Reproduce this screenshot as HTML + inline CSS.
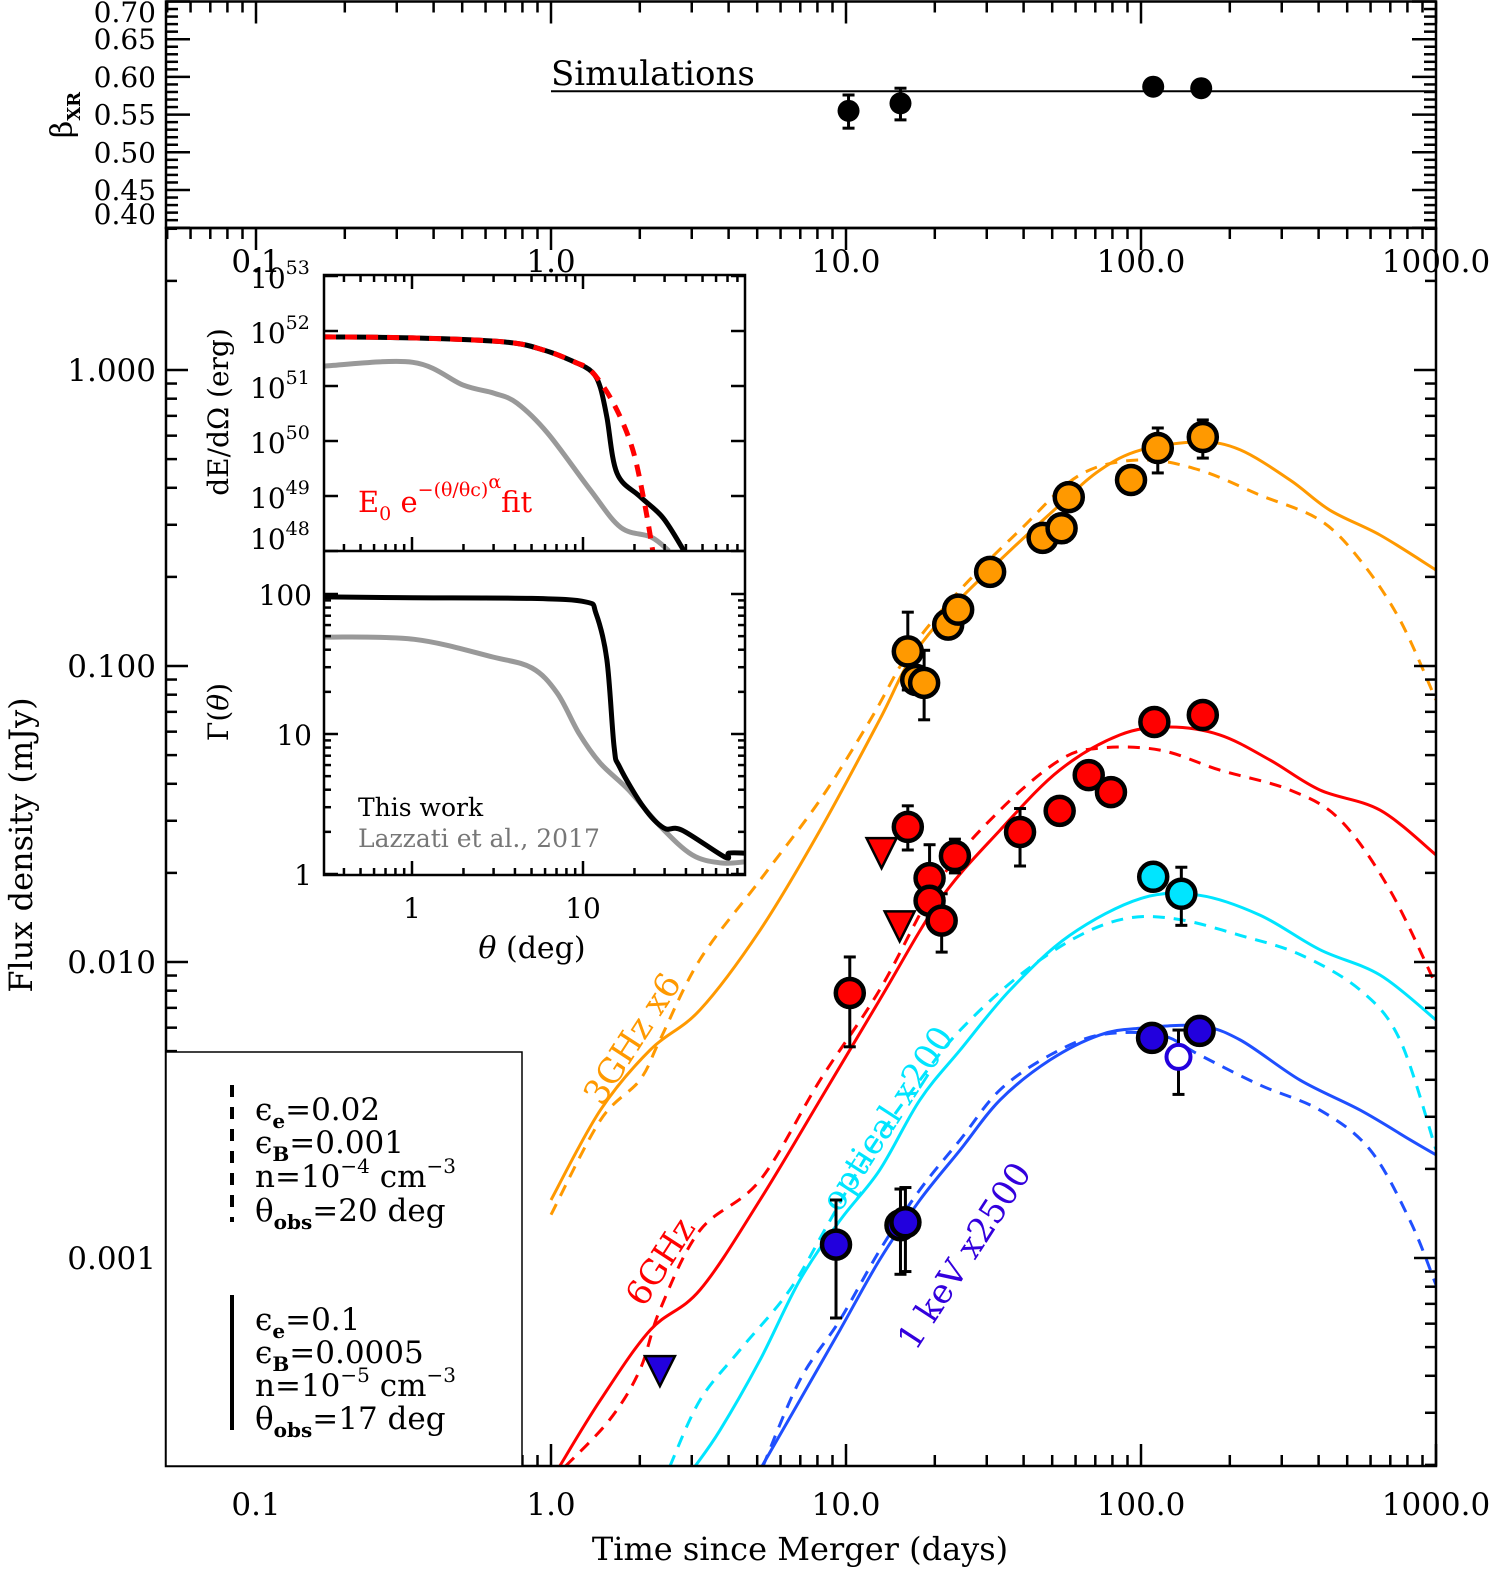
<!DOCTYPE html>
<html><head><meta charset="utf-8"><style>
html,body{margin:0;padding:0;background:#fff}
svg{display:block;font-family:"DejaVu Serif","Liberation Serif",serif}
</style></head><body>
<svg id="fig" xmlns="http://www.w3.org/2000/svg" width="1502" height="1577" viewBox="0 0 1502 1577">
<g id="g-main"></g>
<g id="g-top"></g>
<g id="g-legend">
<rect x="166" y="1052" width="356" height="414" fill="#fff" stroke="#000" stroke-width="1.5"/>
<line x1="232" y1="1085" x2="232" y2="1222" stroke="#000" stroke-width="4" stroke-dasharray="12,10"/>
<line x1="232" y1="1295" x2="232" y2="1430" stroke="#000" stroke-width="4"/>
<g font-size="31" fill="#000">
<text x="255" y="1120">ϵ<tspan font-size="20" dy="8" font-weight="bold">e</tspan><tspan dy="-8">=0.02</tspan></text>
<text x="255" y="1153">ϵ<tspan font-size="20" dy="8" font-weight="bold">B</tspan><tspan dy="-8">=0.001</tspan></text>
<text x="255" y="1187">n=10<tspan font-size="20" dy="-14">−4</tspan><tspan dy="14"> cm</tspan><tspan font-size="20" dy="-14">−3</tspan></text>
<text x="255" y="1221">θ<tspan font-size="20" dy="8" font-weight="bold">obs</tspan><tspan dy="-8">=20 deg</tspan></text>
<text x="255" y="1330">ϵ<tspan font-size="20" dy="8" font-weight="bold">e</tspan><tspan dy="-8">=0.1</tspan></text>
<text x="255" y="1363">ϵ<tspan font-size="20" dy="8" font-weight="bold">B</tspan><tspan dy="-8">=0.0005</tspan></text>
<text x="255" y="1396">n=10<tspan font-size="20" dy="-14">−5</tspan><tspan dy="14"> cm</tspan><tspan font-size="20" dy="-14">−3</tspan></text>
<text x="255" y="1429">θ<tspan font-size="20" dy="8" font-weight="bold">obs</tspan><tspan dy="-8">=17 deg</tspan></text>
</g></g>
<g id="g-inset"></g>
</svg>
<script>
// ===== main flux chart data (time in days, flux in mJy) =====
const o_sol_t=[1.0,1.47,2.17,3.20,5.11,8.17,13.0,16.5,22.5,33.3,53.0,72.6,100,158,217,320,437,646,1000];
const o_sol_f=[0.00157,0.00316,0.00505,0.00689,0.0128,0.0279,0.0658,0.105,0.155,0.228,0.350,0.459,0.537,0.571,0.537,0.425,0.336,0.277,0.211];
const o_das_t=[1.0,1.47,2.00,2.34,3.20,5.11,8.17,12.1,16.5,24.4,38.9,62.0,100,158,253,404,553,755,1000];
const o_das_f=[0.00140,0.00292,0.00399,0.00545,0.0102,0.0189,0.0353,0.0658,0.113,0.181,0.288,0.442,0.497,0.459,0.378,0.311,0.228,0.143,0.0768];
const r_sol_t=[1.07,1.47,2.17,3.20,5.11,8.17,13.0,20.8,33.3,53.0,84.9,125,185,274,404,646,1000];
const r_sol_f=[0.000198,0.000331,0.000571,0.000780,0.00157,0.00342,0.00744,0.0162,0.0279,0.0445,0.0585,0.0622,0.0585,0.0481,0.0381,0.0326,0.0230];
const r_das_t=[1.12,1.58,2.00,2.34,3.20,5.11,8.17,13.0,20.8,33.3,53.0,72.6,116,185,320,473,698,1000];
const r_das_f=[0.000198,0.000284,0.000418,0.000668,0.00124,0.00183,0.00399,0.00804,0.0189,0.0326,0.0481,0.0528,0.0520,0.0445,0.0381,0.0302,0.0175,0.00836];
const c_sol_t=[3.08,3.74,5.11,6.98,9.54,13.0,17.8,24.4,36.0,57.3,100,158,253,404,646,1000];
const c_sol_f=[0.000198,0.000262,0.000452,0.000843,0.00134,0.00198,0.00342,0.00505,0.00804,0.0123,0.0164,0.0168,0.0144,0.0110,0.00904,0.00637];
const c_das_t=[2.53,3.20,4.37,6.45,8.83,12.1,17.8,24.4,38.9,62.0,91.8,136,217,346,553,755,1000];
const c_das_f=[0.000198,0.000331,0.000489,0.000780,0.00134,0.00232,0.00399,0.00589,0.00904,0.0123,0.0141,0.0139,0.0123,0.0106,0.00804,0.00545,0.00232];
const b_sol_t=[5.19,6.98,9.54,13.0,17.8,24.4,33.3,49.2,72.6,100,158,217,346,553,816,1000];
const b_sol_f=[0.000198,0.000331,0.000571,0.000985,0.00157,0.00232,0.00342,0.00467,0.00567,0.00598,0.00608,0.00545,0.00399,0.00316,0.00251,0.00223];
const b_das_t=[5.23,6.98,9.54,13.0,17.8,24.4,33.3,49.2,72.6,116,158,253,404,598,816,1000];
const b_das_f=[0.000198,0.000387,0.000618,0.00106,0.00170,0.00251,0.00370,0.00485,0.00567,0.00567,0.00485,0.00384,0.00316,0.00232,0.00134,0.000811];

const o_pt_t=[16.2,17.3,18.4,22.2,24.0,30.8,46.4,53.8,56.9,92.5,114,162];
const o_pt_f=[0.112,0.0897,0.0877,0.138,0.155,0.208,0.271,0.292,0.372,0.425,0.545,0.594];
const o_pt_lo=[0.083,null,0.0658,0.125,null,null,null,0.262,0.34,null,0.449,0.504];
const o_pt_hi=[0.152,null,0.113,0.152,null,null,null,0.325,0.41,null,0.637,0.678];
const r_pt_t=[16.2,19.2,19.2,21.1,23.4,10.3,38.9,53.0,66.5,79.1,111,162];
const r_pt_f=[0.0286,0.0192,0.0161,0.0138,0.0228,0.00786,0.0275,0.0324,0.0428,0.0375,0.0647,0.0683];
const r_pt_lo=[0.0239,0.0156,null,0.0108,0.0200,0.00517,0.0211,0.0298,null,null,null,0.0630];
const r_pt_hi=[0.0337,0.0249,null,0.0170,0.0260,0.0104,0.0330,0.0352,null,null,null,0.0750];
const r_lim_t=[13.2,15.2];
const r_lim_f=[0.0235,0.0133];
const b_lim_t=[2.34];
const b_lim_f=[0.000418];
const c_pt_t=[110,137];
const c_pt_f=[0.0194,0.0170];
const c_pt_lo=[0.0175,0.0133];
const c_pt_hi=[0.0215,0.0209];
const b_pt_t=[9.25,15.3,15.9,109,158];
const b_pt_f=[0.00111,0.00129,0.00132,0.00554,0.00585];
const b_pt_lo=[0.000627,0.000881,0.00090,null,null];
const b_pt_hi=[0.00157,0.00171,0.00173,null,null];
const b_open_t=[134];
const b_open_f=[0.00478];
const b_open_lo=[0.00357];
const b_open_hi=[0.00589];
const xTickVals=[0.1,1,10,100,1000];
const xTickLabels=["0.1","1.0","10.0","100.0","1000.0"];
const yTickVals=[0.001,0.01,0.1,1];
const yTickLabels=["0.001","0.010","0.100","1.000"];

// ===== beta panel data =====
const beta_t=[10.2,15.3,110,160];
const beta_v=[0.555,0.565,0.587,0.585];
const beta_lo=[0.532,0.543,null,null];
const beta_hi=[0.576,0.585,null,null];
const beta_sim=0.581;
const betaTickVals=[0.40,0.45,0.50,0.55,0.60,0.65,0.70];
const betaTickLabels=["0.40","0.45","0.50","0.55","0.60","0.65","0.70"];

// ===== inset data (theta deg) =====
const e_this_th=[0.306,1.01,3.5,5.9,9.0,11.3,12.6,13.8,15.8,21.6,29.4,39];
const e_this_v=[7.8e51,7.5e51,6.3e51,4.5e51,2.7e51,1.8e51,9.6e50,2.7e50,2.6e49,9.7e48,4.0e48,1.0e48];
const e_fit_th=[0.306,1.01,3.5,5.9,9.0,11.3,15.0,19.3,22.7,25.6];
const e_fit_v=[7.8e51,7.5e51,6.3e51,4.5e51,2.7e51,1.8e51,5.0e50,7.9e49,8.5e48,1.0e48];
const e_laz_th=[0.306,1.01,1.99,3.02,4.1,6.2,11.0,16.6,25,31.9];
const e_laz_v=[2.3e51,2.7e51,1.04e51,7.4e50,4.9e50,1.4e50,1.3e49,2.7e48,1.8e48,1.0e48];
const g_this_th=[0.31,1.0,5.0,10.4,11.9,13.8,15.2,16.4,22.6,29.7,37.9,67.6,71.3,88];
const g_this_v=[95.4,94,93,87.7,73,33.8,8.1,5.8,3.0,2.13,2.06,1.32,1.41,1.41];
const g_laz_th=[0.31,1.03,2.97,5.03,7.05,9.48,12.6,18.5,28.5,43.5,64,88];
const g_laz_v=[49.3,47.5,35.5,29.6,19.7,10.1,6.2,3.98,2.17,1.37,1.2,1.22];

const NS="http://www.w3.org/2000/svg";
function mk(parent,tag,attrs){const e=document.createElementNS(NS,tag);for(const k in attrs)e.setAttribute(k,attrs[k]);parent.appendChild(e);return e;}
const L=Math.log10;
function smooth(P){ // Catmull-Rom to bezier
  let d='M'+P[0][0].toFixed(1)+','+P[0][1].toFixed(1);
  for(let i=0;i<P.length-1;i++){const p0=P[i-1]||P[i],p1=P[i],p2=P[i+1],p3=P[i+2]||P[i+1];
    const c1=[p1[0]+(p2[0]-p0[0])/6,p1[1]+(p2[1]-p0[1])/6],c2=[p2[0]-(p3[0]-p1[0])/6,p2[1]-(p3[1]-p1[1])/6];
    d+='C'+c1[0].toFixed(1)+','+c1[1].toFixed(1)+' '+c2[0].toFixed(1)+','+c2[1].toFixed(1)+' '+p2[0].toFixed(1)+','+p2[1].toFixed(1);}
  return d;}
const X=t=>551+295*L(t), Y=f=>370-296*L(f);
const MX0=166,MX1=1436,MY0=228,MY1=1466;
const gm=document.getElementById('g-main');
const defs=mk(document.getElementById('fig'),'defs',{});
const cp=mk(defs,'clipPath',{id:'mclip'});mk(cp,'rect',{x:MX0,y:MY0,width:MX1-MX0,height:MY1-MY0});
const curves=mk(gm,'g',{'clip-path':'url(#mclip)'});
function curve(ts,fs,color,dash,name){
  const d=smooth(ts.map((t,i)=>[X(t),Y(fs[i])]));
  const p=mk(curves,'path',{d:d,fill:'none',stroke:color,'stroke-width':3,'stroke-dasharray':dash?'12,9':'none'});
  
  
}
curve(o_das_t,o_das_f,'#ff9900',1,'3ghz-model-dashed');
curve(o_sol_t,o_sol_f,'#ff9900',0,'3ghz-model-solid');
curve(r_das_t,r_das_f,'#ff0000',1,'6ghz-model-dashed');
curve(r_sol_t,r_sol_f,'#ff0000',0,'6ghz-model-solid');
curve(c_das_t,c_das_f,'#00e5ff',1,'optical-model-dashed');
curve(c_sol_t,c_sol_f,'#00e5ff',0,'optical-model-solid');
curve(b_das_t,b_das_f,'#1f4fff',1,'xray-model-dashed');
curve(b_sol_t,b_sol_f,'#1f4fff',0,'xray-model-solid');
function rlabel(x,y,txt,color,name){const t=mk(gm,'text',{x:x,y:y,fill:color,'font-size':34,'text-anchor':'middle',transform:'rotate(-57 '+x+' '+y+')'});t.textContent=txt;
 }
rlabel(642,1045,'3GHz x6','#ff9900','3ghz-label');
rlabel(670,1268,'6GHz','#ff0000','6ghz-label');
rlabel(897,1125,'optical x200','#00e5ff','optical-label');
rlabel(974,1262,'1 keV x2500','#3300dd','xray-label');

const pts=mk(gm,'g',{});
function ebar(g,x,ylo,yhi){mk(g,'line',{x1:x,y1:ylo,x2:x,y2:yhi,stroke:'#000','stroke-width':3});
 mk(g,'line',{x1:x-6,y1:ylo,x2:x+6,y2:ylo,stroke:'#000','stroke-width':3});mk(g,'line',{x1:x-6,y1:yhi,x2:x+6,y2:yhi,stroke:'#000','stroke-width':3});}
function points(ts,fs,lo,hi,fill,name,open){
  const g=mk(pts,'g',{});
  
  
  ts.forEach((t,i)=>{if(lo&&lo[i]!=null)ebar(g,X(t),Y(lo[i]),Y(hi[i]));});
  ts.forEach((t,i)=>{const c=mk(g,'circle',{cx:X(t),cy:Y(fs[i]),r:open?12:14,fill:open?'#fff':fill,stroke:open?'#2200dd':'#000','stroke-width':open?4:4.5});
    });
}
function lims(ts,fs,fill,name){const g=mk(pts,'g',{});
 ts.forEach((t,i)=>{const x=X(t),y=Y(fs[i]);const p=mk(g,'path',{d:`M${x-15},${y-14}L${x+15},${y-14}L${x},${y+16}Z`,fill:fill,stroke:'#000','stroke-width':2.5});
 });}
points(o_pt_t,o_pt_f,o_pt_lo,o_pt_hi,'#ff9900','3ghz-data');
points(r_pt_t,r_pt_f,r_pt_lo,r_pt_hi,'#ff0000','6ghz-data');
lims(r_lim_t,r_lim_f,'#ff0000','6ghz-upper-limits');
lims(b_lim_t,b_lim_f,'#2200dd','xray-upper-limit');
points(c_pt_t,c_pt_f,c_pt_lo,c_pt_hi,'#00e5ff','optical-data');
points(b_pt_t,b_pt_f,b_pt_lo,b_pt_hi,'#2200dd','xray-data');
points(b_open_t,b_open_f,b_open_lo,b_open_hi,'#fff','xray-open-data',true);

const ax=mk(gm,'g',{stroke:'#000','stroke-width':2.5,fill:'none'});
mk(ax,'rect',{x:MX0,y:MY0,width:MX1-MX0,height:MY1-MY0});
for(let d=-2;d<=3;d++)for(let m=1;m<10;m++){const v=m*Math.pow(10,d);const x=X(v);if(x<MX0+1||x>MX1)continue;const len=m==1?22:11;
 mk(ax,'line',{x1:x,y1:MY1,x2:x,y2:MY1-len});mk(ax,'line',{x1:x,y1:MY0,x2:x,y2:MY0+len});}
for(let d=-4;d<=0;d++)for(let m=1;m<10;m++){const v=m*Math.pow(10,d);const y=Y(v);if(y<MY0||y>MY1-1)continue;const len=m==1?22:11;
 mk(ax,'line',{x1:MX0,y1:y,x2:MX0+len,y2:y});mk(ax,'line',{x1:MX1,y1:y,x2:MX1-len,y2:y});}
const tl=mk(gm,'g',{'font-size':31,fill:'#000'});
xTickVals.forEach((v,i)=>{let t=mk(tl,'text',{x:X(v),y:1515,'text-anchor':'middle'});t.textContent=xTickLabels[i];
 
 t=mk(tl,'text',{x:X(v),y:272,'text-anchor':'middle'});t.textContent=xTickLabels[i];
 });
yTickVals.forEach((v,i)=>{const t=mk(tl,'text',{x:156,y:Y(v)+11,'text-anchor':'end'});t.textContent=yTickLabels[i];
 });
let xt=mk(gm,'text',{x:800,y:1560,'text-anchor':'middle','font-size':32});xt.textContent='Time since Merger (days)';

let yt=mk(gm,'text',{x:0,y:0,'text-anchor':'middle','font-size':32,transform:'translate(32,845) rotate(-90)'});yt.textContent='Flux density (mJy)';


// ===== beta panel =====
const gt=document.getElementById('g-top');
const B=b=>1.5+(0.70-b)*754;
const tax=mk(gt,'g',{stroke:'#000','stroke-width':2.5,fill:'none'});
mk(tax,'rect',{x:MX0,y:1.5,width:MX1-MX0,height:MY0-1.5});
for(let k=40;k<=70;k++){const y=B(k/100);const len=k%5==0?24:12;mk(tax,'line',{x1:MX0,y1:y,x2:MX0+len,y2:y});mk(tax,'line',{x1:MX1,y1:y,x2:MX1-len,y2:y});}
for(let d=-2;d<=3;d++)for(let m=1;m<10;m++){const v=m*Math.pow(10,d);const x=X(v);if(x<MX0+1||x>MX1)continue;const len=m==1?22:11;mk(tax,'line',{x1:x,y1:1.5,x2:x,y2:1.5+len});}
const simL=mk(gt,'line',{x1:X(1),y1:B(beta_sim),x2:MX1,y2:B(beta_sim),stroke:'#000','stroke-width':2});

let st=mk(gt,'text',{x:X(1),y:85,'font-size':34});st.textContent='Simulations';

beta_t.forEach((t,i)=>{if(beta_lo[i]!=null)ebar(gt,X(t),B(beta_lo[i]),B(beta_hi[i]));
 const c=mk(gt,'circle',{cx:X(t),cy:B(beta_v[i]),r:11,fill:'#000'});});
const btl=mk(gt,'g',{'font-size':28,fill:'#000'});
betaTickVals.forEach((v,i)=>{let y=B(v)+10;if(i==0)y=224;if(i==6)y=22;const t=mk(btl,'text',{x:156,y:y,'text-anchor':'end'});t.textContent=betaTickLabels[i];
 });
let bt=mk(gt,'text',{x:0,y:0,'font-size':30,'text-anchor':'middle',transform:'translate(72,115) rotate(-90)'});
bt.innerHTML='β<tspan font-size="18" dy="8" font-weight="bold">XR</tspan>';


// ===== inset =====
const gi=document.getElementById('g-inset');
const IX0=324,IX1=745,IY0=275,IYM=551,IY1=875;
const TX=th=>412+171*L(th);
const EY=e=>331-55*(L(e)-52);
const GY=g=>874-140*L(g);
mk(gi,'rect',{x:IX0,y:IY0,width:IX1-IX0,height:IY1-IY0,fill:'#fff'});
const ic=mk(defs,'clipPath',{id:'iclipA'});mk(ic,'rect',{x:IX0,y:IY0,width:IX1-IX0,height:IYM-IY0});
const ic2=mk(defs,'clipPath',{id:'iclipB'});mk(ic2,'rect',{x:IX0,y:IYM,width:IX1-IX0,height:IY1-IYM});
const gA=mk(gi,'g',{'clip-path':'url(#iclipA)'}),gB=mk(gi,'g',{'clip-path':'url(#iclipB)'});
function icurve(g,ths,vs,fy,color,w,dash,name){const d=smooth(ths.map((t,i)=>[TX(t),fy(vs[i])]));
 const p=mk(g,'path',{d:d,fill:'none',stroke:color,'stroke-width':w,'stroke-dasharray':dash||'none'});
 }
icurve(gA,e_laz_th,e_laz_v,EY,'#999',5,null,'energy-lazzati-curve');
icurve(gA,e_this_th,e_this_v,EY,'#000',5,null,'energy-this-work-curve');
icurve(gA,e_fit_th,e_fit_v,EY,'#ff0000',5,'12,9','energy-fit-curve');
icurve(gB,g_laz_th,g_laz_v,GY,'#999',5,null,'lorentz-lazzati-curve');
icurve(gB,g_this_th,g_this_v,GY,'#000',5,null,'lorentz-this-work-curve');
const iax=mk(gi,'g',{stroke:'#000','stroke-width':2.5,fill:'none'});
mk(iax,'rect',{x:IX0,y:IY0,width:IX1-IX0,height:IY1-IY0});
mk(iax,'line',{x1:IX0,y1:IYM,x2:IX1,y2:IYM});
for(let d=-1;d<=1;d++)for(let m=1;m<10;m++){const v=m*Math.pow(10,d);const x=TX(v);if(x<IX0+1||x>IX1-1)continue;const len=m==1?14:7;
 mk(iax,'line',{x1:x,y1:IY0,x2:x,y2:IY0+len});mk(iax,'line',{x1:x,y1:IYM,x2:x,y2:IYM-len});mk(iax,'line',{x1:x,y1:IY1,x2:x,y2:IY1-len});}
for(let p=48;p<=53;p++){const y=EY(Math.pow(10,p));mk(iax,'line',{x1:IX0,y1:y,x2:IX0+14,y2:y});mk(iax,'line',{x1:IX1,y1:y,x2:IX1-14,y2:y});}
for(let d=0;d<=2;d++)for(let m=1;m<10;m++){const v=m*Math.pow(10,d);const y=GY(v);if(y<IYM+1||y>IY1-1)continue;const len=m==1?14:7;
 mk(iax,'line',{x1:IX0,y1:y,x2:IX0+len,y2:y});mk(iax,'line',{x1:IX1,y1:y,x2:IX1-len,y2:y});}
const itl=mk(gi,'g',{'font-size':28,fill:'#000'});
for(let p=48;p<=53;p++){const t=mk(itl,'text',{x:250,y:Math.min(EY(Math.pow(10,p))+12,IYM-2)});t.innerHTML='10<tspan font-size="19" dy="-14">'+p+'</tspan>';
 }
[[100,'100'],[10,'10'],[1,'1']].forEach(a=>{const t=mk(itl,'text',{x:312,y:GY(a[0])+11,'text-anchor':'end'});t.textContent=a[1];
 });
[[1,'1'],[10,'10']].forEach(a=>{const t=mk(itl,'text',{x:TX(a[0]),y:918,'text-anchor':'middle'});t.textContent=a[1];
 });
let it=mk(gi,'text',{x:532,y:958,'text-anchor':'middle','font-size':30});it.innerHTML='<tspan font-style="italic">θ</tspan> (deg)';

it=mk(gi,'text',{x:0,y:0,'text-anchor':'middle','font-size':28,transform:'translate(228,412) rotate(-90)'});it.textContent='dE/dΩ (erg)';

it=mk(gi,'text',{x:0,y:0,'text-anchor':'middle','font-size':28,transform:'translate(228,712) rotate(-90)'});it.innerHTML='Γ(<tspan font-style="italic">θ</tspan>)';

it=mk(gi,'text',{x:358,y:512,'font-size':29,fill:'#ff0000'});
it.innerHTML='E<tspan font-size="19" dy="8">0</tspan><tspan dy="-8"> e</tspan><tspan font-size="19" dy="-16">−(θ/θc)</tspan><tspan font-size="19" dy="-8">α</tspan><tspan dy="24">fit</tspan>';

it=mk(gi,'text',{x:358,y:816,'font-size':25,fill:'#000'});it.textContent='This work';

it=mk(gi,'text',{x:358,y:847,'font-size':25,fill:'#777'});it.textContent='Lazzati et al., 2017';

</script>
</body></html>
